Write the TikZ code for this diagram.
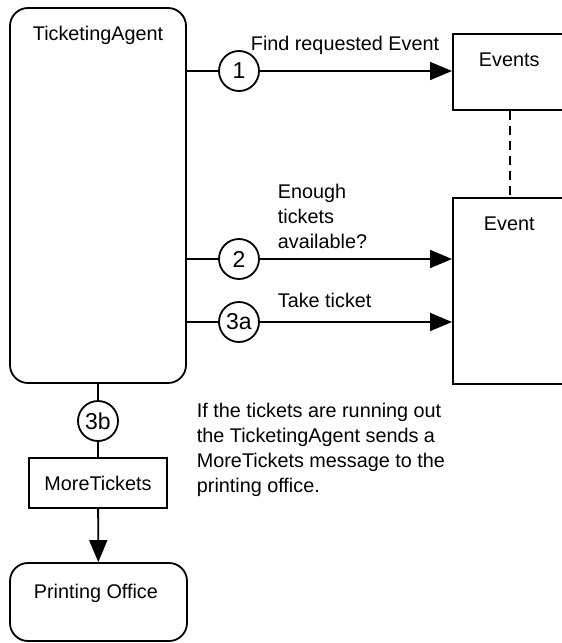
\documentclass[tikz,border=0pt]{standalone}
\usepackage{fontspec}
\setmainfont{Liberation Sans}
\usetikzlibrary{arrows.meta}
\begin{document}
\begin{tikzpicture}[x=1pt,y=-1pt,
  line width=1.8pt,
  every node/.style={font=\fontsize{19.8}{25}\selectfont, inner sep=0pt, line width=1.8pt},
  agentbox/.style={draw, rounded corners=18pt},
  objbox/.style={draw},
  msgnum/.style={draw, circle, minimum size=40pt, font=\fontsize{23}{25}\selectfont},
  txt/.style={anchor=base west, align=left},
  flow/.style={-{Triangle[length=22pt,width=18pt]}},
  assoc/.style={dash pattern=on 9pt off 6pt}]
  \clip (0,0) rectangle (562,643);
  % actors
  \node[agentbox, minimum width=176pt, minimum height=375pt] (agent) at (98,195.5) {};
  \node[txt] (agentname) at (32,40) {TicketingAgent};
  \node[agentbox, minimum width=177pt, minimum height=78pt] (printing) at (98.5,602) {};
  \node[txt] (printingname) at (33,598) {Printing Office};
  % objects
  \node[objbox, minimum width=114pt, minimum height=76pt, anchor=north west] (events) at (452,33) {};
  \node[txt] (eventsname) at (478,66) {Events};
  \node[objbox, minimum width=114pt, minimum height=186pt, anchor=north west] (event) at (452,197) {};
  \node[txt] (eventname) at (483,230) {Event};
  \draw[assoc] (events.south) -- (event.north);
  % message 1
  \node[msgnum] (c1) at (239,71) {1};
  \draw (c1 -| agent.east) -- (c1);
  \draw[flow] (c1) -- (c1 -| events.west);
  \node[txt] (l1) at (250,50) {Find requested Event};
  % message 2 (multi-line labels are placed by their last baseline)
  \node[msgnum] (c2) at (239,259) {2};
  \draw (c2 -| agent.east) -- (c2);
  \draw[flow] (c2) -- (c2 -| event.west);
  \node[txt] (l2) at (277,248) {Enough\\tickets\\available?};
  % message 3a
  \node[msgnum] (c3a) at (239,322) {3a};
  \draw (c3a -| agent.east) -- (c3a);
  \draw[flow] (c3a) -- (c3a -| event.west);
  \node[txt] (l3a) at (277,307) {Take ticket};
  % message 3b
  \node[msgnum] (c3b) at (98,421) {3b};
  \node[objbox, minimum width=138pt, minimum height=50pt] (more) at (98,483) {MoreTickets};
  \draw (agent.south) -- (c3b);
  \draw (c3b) -- (more);
  \draw[flow] (more) -- (printing);
  % note
  \node[txt] (note) at (196,492) {If the tickets are running out\\the TicketingAgent sends a\\MoreTickets message to the\\printing office.};
\end{tikzpicture}
\end{document}
